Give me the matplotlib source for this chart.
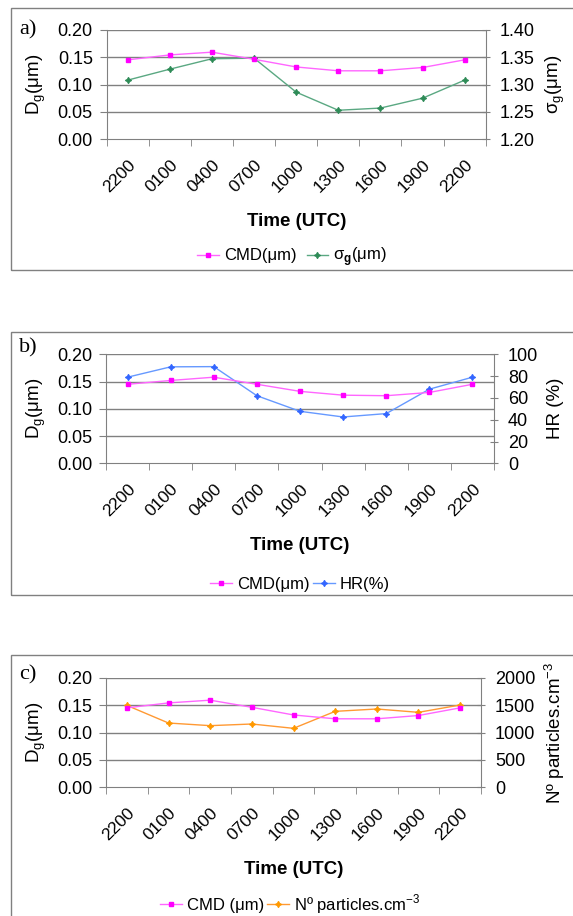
import numpy as np
import matplotlib
matplotlib.use("Agg")
import matplotlib.pyplot as plt
import matplotlib.transforms as mtransforms
from matplotlib.patches import Rectangle

plt.rcParams['font.family'] = ['Liberation Sans', 'DejaVu Sans']
plt.rcParams['mathtext.fontset'] = 'custom'
plt.rcParams['mathtext.rm'] = 'Liberation Sans'
plt.rcParams['mathtext.bf'] = 'Liberation Sans:bold'

# data
times = ['2200', '0100', '0400', '0700', '1000', '1300', '1600', '1900', '2200']
cmd_a = [0.145, 0.154, 0.159, 0.146, 0.132, 0.125, 0.125, 0.131, 0.145]
sigma_g = [1.308, 1.328, 1.347, 1.348, 1.286, 1.253, 1.257, 1.275, 1.308]
cmd_b = [0.145, 0.152, 0.158, 0.145, 0.132, 0.125, 0.124, 0.130, 0.145]
hr = [79, 88.5, 88.7, 62, 47.7, 42.5, 45.6, 68, 79]
cmd_c = [0.145, 0.154, 0.159, 0.146, 0.132, 0.125, 0.125, 0.131, 0.145]
n_part = [1495, 1173, 1125, 1155, 1076, 1386, 1429, 1368, 1502]

left_ticks = [0.00, 0.05, 0.10, 0.15, 0.20]

W, H = 573, 916
fig = plt.figure(figsize=(W / 100, H / 100), dpi=100)

GRAY = '#808080'
PINK_LINE = '#ff66ff'
PINK_MK = '#ff00ff'


def px_axes(x0, x1, ytop, ybot):
    return fig.add_axes([x0 / W, 1 - ybot / H, (x1 - x0) / W, (ybot - ytop) / H])


def panel(box, axpos, letter, letter_y, right_vals, right_lim, right_ticks,
          right_fmt, right_label, r_color, r_mk_color, r_marker, r_ms, cmd,
          cmd_lbl, r_lbl, xlab_y, leg_xy, leg_gap):
    bx_top, bx_bot = box
    fig.patches.append(Rectangle((11 / W, 1 - bx_bot / H), 1.0, (bx_bot - bx_top) / H,
                                 transform=fig.transFigure, fill=False,
                                 edgecolor=GRAY, lw=1.0))
    ax = px_axes(*axpos)
    x = np.arange(len(times))
    ax.set_xlim(-0.5, len(times) - 0.5)
    ax.set_ylim(0, 0.20)
    ax.set_yticks(left_ticks)
    ax.set_yticklabels(['%.2f' % v for v in left_ticks], fontsize=13)
    for v in left_ticks[1:]:
        ax.axhline(v, color=GRAY, lw=1.0, zorder=0)
    ax.set_xticks(x)
    ax.set_xticklabels(times, fontsize=12.5, rotation=45, ha='right', va='top',
                       rotation_mode='anchor')
    off = mtransforms.ScaledTranslation(-2 / 100, 0, fig.dpi_scale_trans)
    for lab in ax.get_xticklabels():
        lab.set_transform(lab.get_transform() + off)
    ax.set_xticks(np.arange(-0.5, len(times)), minor=True)
    ax.tick_params(axis='x', which='major', length=0, pad=13)
    ax.tick_params(axis='x', which='minor', length=5, color=GRAY, direction='out')
    ax.tick_params(axis='y', length=5, color=GRAY, direction='out', pad=5)
    for s in ['top', 'right']:
        ax.spines[s].set_visible(False)
    for s in ['left', 'bottom']:
        ax.spines[s].set_color(GRAY)

    ax2 = ax.twinx()
    ax2.set_ylim(*right_lim)
    ax2.set_yticks(right_ticks)
    ax2.set_yticklabels([right_fmt % v for v in right_ticks], fontsize=13)
    ax2.tick_params(axis='y', length=6, color=GRAY, direction='inout', pad=7)
    for s in ['top', 'left', 'bottom']:
        ax2.spines[s].set_visible(False)
    ax2.spines['right'].set_color(GRAY)

    l2, = ax2.plot(x, right_vals, color=r_color, lw=1.0, marker=r_marker,
                   ms=r_ms, mfc=r_mk_color, mec=r_mk_color, mew=0.8)
    l1, = ax2.plot(x, np.array(cmd) * (right_lim[1] - right_lim[0]) / 0.2 + right_lim[0],
                   color=PINK_LINE, lw=1.0, marker='s', ms=3.5,
                   mfc=PINK_MK, mec=PINK_MK)

    x0, x1, ytop, ybot = axpos
    yc = (ytop + ybot) / 2
    fig.text(19 / W, 1 - letter_y / H, letter, family='Liberation Serif',
             fontsize=16, ha='left', va='center')
    fig.text(36 / W, 1 - yc / H, r'D$_\mathregular{g}$(μm)', fontsize=13.5,
             rotation=90, ha='center', va='center')
    fig.text(555 / W, 1 - yc / H, right_label, fontsize=13.5,
             rotation=90, ha='center', va='center')
    fig.text((x0 + x1) / 2 / W, 1 - xlab_y / H, 'Time (UTC)', fontsize=13.5,
             weight='bold', ha='center', va='center')
    fig.legend([l1, l2], [cmd_lbl, r_lbl], loc='center',
               bbox_to_anchor=(leg_xy[0] / W, 1 - leg_xy[1] / H),
               ncol=2, frameon=False, fontsize=12, handlelength=1.3,
               handletextpad=0.3, columnspacing=leg_gap, borderaxespad=0)
    return ax, ax2


panel((8, 270), (106.7, 485.7, 29.7, 139.3), 'a)', 30,
      sigma_g, (1.20, 1.40), [1.20, 1.25, 1.30, 1.35, 1.40], '%.2f',
      r'σ$_\mathregular{g}$(μm)', '#5aa882', '#2e8b57', (4, 1, 0), 4.5,
      cmd_a, 'CMD(μm)', r'σ$_\mathbf{g}$(μm)', 221, (292, 257), 0.6)

panel((332, 595), (106, 494, 354.3, 463.3), 'b)', 348,
      hr, (0, 100), [0, 20, 40, 60, 80, 100], '%d',
      'HR (%)', '#6699ff', '#3366ff', (4, 1, 0), 4.5,
      cmd_b, 'CMD(μm)', 'HR(%)', 546, (300, 584), 0.2)

panel((655, 1000), (106, 481, 677.7, 787.3), 'c)', 675,
      n_part, (0, 2000), [0, 500, 1000, 1500, 2000], '%d',
      r'Nº particles.cm$^{-3}$', '#ff9933', '#ff9900', (4, 1, 0), 4.5,
      cmd_c, 'CMD (μm)', r'Nº particles.cm$^{-3}$', 869, (290, 904), 0.2)

fig.savefig('out.png', dpi=100)
